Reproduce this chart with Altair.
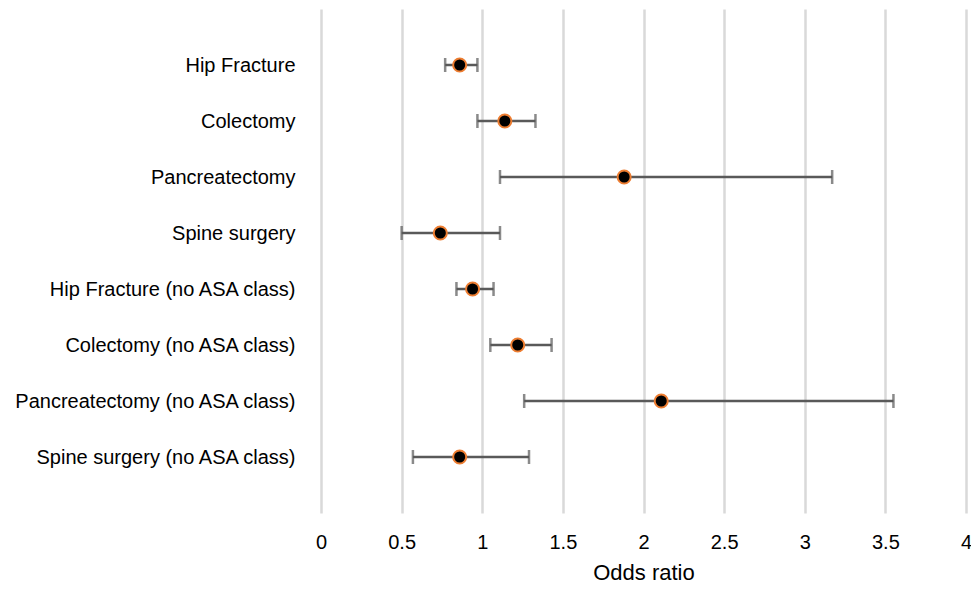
import altair as alt
import pandas as pd

procedures = [
    "Hip Fracture",
    "Colectomy",
    "Pancreatectomy",
    "Spine surgery",
    "Hip Fracture (no ASA class)",
    "Colectomy (no ASA class)",
    "Pancreatectomy (no ASA class)",
    "Spine surgery (no ASA class)",
]
odds_ratio = [0.86, 1.14, 1.88, 0.74, 0.94, 1.22, 2.11, 0.86]
ci_low = [0.77, 0.97, 1.11, 0.50, 0.84, 1.05, 1.26, 0.57]
ci_high = [0.97, 1.33, 3.17, 1.11, 1.07, 1.43, 3.55, 1.29]
x_ticks = [0, 0.5, 1, 1.5, 2, 2.5, 3, 3.5, 4]

df = pd.DataFrame({"proc": procedures, "or": odds_ratio, "lo": ci_low, "hi": ci_high})

FONT = "Liberation Sans"

y_enc = alt.Y(
    "proc:N",
    sort=procedures,
    scale=alt.Scale(type="point", padding=1),
    axis=alt.Axis(
        title=None, domain=False, ticks=False, grid=False,
        labelFontSize=20, labelFont=FONT, labelColor="#000000", labelPadding=26,
        labelLimit=400,
    ),
)
x_scale = alt.Scale(domain=[0, 4], nice=False, zero=True)
x_axis = alt.Axis(
    title="Odds ratio", values=x_ticks, format="~g", domain=False, ticks=False, grid=True,
    gridColor="#d9d9d9", gridWidth=2.5,
    labelFontSize=20, labelFont=FONT, labelColor="#000000", labelPadding=19,
    titleFontSize=22, titleFont=FONT, titleFontWeight="normal", titleColor="#000000",
    titlePadding=10, labelFlush=False,
)

base = alt.Chart(df)

rules = base.mark_rule(color="#595959", strokeWidth=2.5).encode(
    x=alt.X("lo:Q", scale=x_scale, axis=x_axis),
    x2="hi:Q",
    y=y_enc,
)
cap_lo = base.mark_tick(color="#595959", thickness=2.5, size=14, orient="vertical").encode(
    x=alt.X("lo:Q", scale=x_scale), y=alt.Y("proc:N", sort=procedures)
)
cap_hi = base.mark_tick(color="#595959", thickness=2.5, size=14, orient="vertical").encode(
    x=alt.X("hi:Q", scale=x_scale), y=alt.Y("proc:N", sort=procedures)
)
points = base.mark_point(
    filled=False, fill="#000000", fillOpacity=1, stroke="#ED7D31", strokeWidth=2,
    size=170, shape="circle", opacity=1,
).encode(
    x=alt.X("or:Q", scale=x_scale), y=alt.Y("proc:N", sort=procedures)
)

chart = (
    alt.layer(rules, cap_lo, cap_hi, points)
    .properties(
        width=645, height=504,
        background="#ffffff",
        autosize=alt.AutoSizeParams(type="none"),
        padding={"left": 313, "top": 1, "right": 5, "bottom": 70},
    )
    .configure_view(strokeWidth=0, stroke="transparent")
    .configure_axis(domain=False)
)

chart.save("out.html", embed_options={"renderer": "svg", "actions": False})
